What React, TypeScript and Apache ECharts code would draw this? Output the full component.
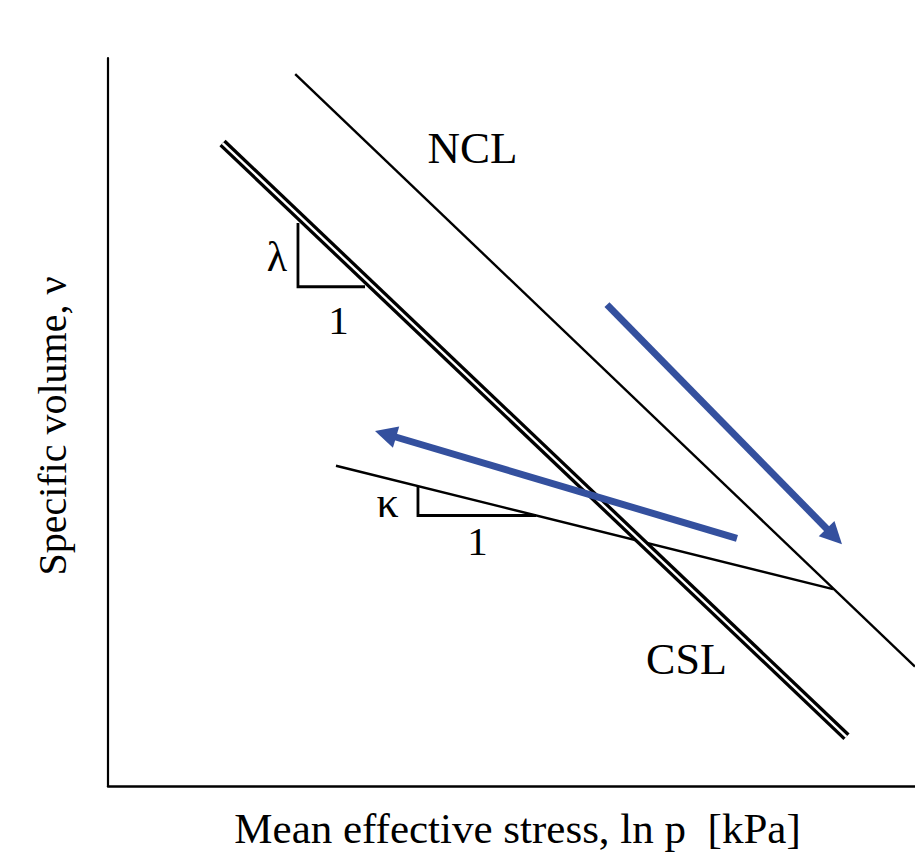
import React, { useEffect, useRef } from "react";
import * as echarts from "echarts";

// Schematic values (arbitrary units: x = ln p, y = specific volume)
const nclLine = [[23.2, 97.8], [100, 16.4]];
const cslLine = [[14.19, 88.32], [91.51, 6.76]];
const kappaLine = [[28.25, 43.99], [89.84, 27.05]];
const lambdaTriangle = [[23.54, 77.32], [23.54, 68.58], [31.85, 68.58]];
const kappaTriangle = [[38.41, 41.12], [38.41, 37.16], [53.04, 37.16]];
const arrowUnload = [[77.94, 34.02], [34.39, 48.35]];
const arrowLoad = [[61.83, 66.12], [90.0, 34.28]];
const labelNames = ["NCL", "CSL", "λ", "1", "κ", "1"];
const labelPoints = [
  [45.17, 87.7],
  [71.68, 17.42],
  [20.94, 72.68],
  [28.56, 64.07],
  [34.63, 38.93],
  [45.79, 33.67],
];
const xAxisTitle = "Mean effective stress, ln p  [kPa]";
const yAxisTitle = "Specific volume, ν";

const FONT = "'Liberation Serif', 'Times New Roman', serif";
const INK = "#000000";
const BLUE = "#34509e";

export default function App() {
  const ref = useRef<HTMLDivElement>(null);

  useEffect(() => {
    if (!ref.current) return;
    const chart = echarts.init(ref.current, undefined, { renderer: "svg" });
    const labelFont: Record<string, number> = { NCL: 45, CSL: 44, "λ": 42, "κ": 44, "1": 41 };

    const thin = (data: number[][], width: number, color = INK, z = 2) => ({
      type: "line",
      data,
      symbol: "none",
      showSymbol: false,
      silent: true,
      z,
      lineStyle: { color, width, cap: "butt", join: "miter", opacity: 1 },
    });

    chart.setOption({
      animation: false,
      backgroundColor: "#ffffff",
      grid: { left: 108, top: 58, right: 0, bottom: 65, containLabel: false },
      xAxis: {
        type: "value",
        min: 0,
        max: 100,
        name: xAxisTitle,
        nameLocation: "middle",
        nameGap: 21,
        nameTextStyle: { fontFamily: FONT, fontSize: 43, color: INK, padding: [0, 0, 0, 12] },
        axisLine: { show: true, onZero: false, lineStyle: { color: INK, width: 2.5 } },
        axisTick: { show: false },
        axisLabel: { show: false },
        splitLine: { show: false },
      },
      yAxis: {
        type: "value",
        min: 0,
        max: 100,
        name: yAxisTitle,
        nameLocation: "middle",
        nameGap: 36,
        nameTextStyle: { fontFamily: FONT, fontSize: 40, color: INK, padding: [0, 8, 0, 0] },
        axisLine: { show: true, onZero: false, lineStyle: { color: INK, width: 2.2 } },
        axisTick: { show: false },
        axisLabel: { show: false },
        splitLine: { show: false },
      },
      series: [
        thin(nclLine, 2.4),
        thin(kappaLine, 2.4),
        thin(cslLine, 9, INK, 3),
        thin(cslLine, 2.4, "#ffffff", 4),
        thin(lambdaTriangle, 2.8),
        thin(kappaTriangle, 2.8),
        {
          type: "lines",
          coordinateSystem: "cartesian2d",
          silent: true,
          z: 5,
          symbol: ["none", "triangle"],
          symbolSize: [24, 22],
          lineStyle: { color: BLUE, width: 7, opacity: 1, curveness: 0 },
          data: [{ coords: arrowUnload }, { coords: arrowLoad }],
        },
        {
          type: "scatter",
          silent: true,
          symbolSize: 0,
          z: 6,
          data: labelNames.map((n, i) => ({
            name: n,
            value: labelPoints[i],
            label: {
              show: true,
              position: "inside",
              formatter: "{b}",
              fontFamily: FONT,
              fontSize: labelFont[n],
              color: INK,
              textBorderWidth: 0,
              opacity: 1,
            },
          })),
        },
      ],
    });
    return () => chart.dispose();
  }, []);

  return (
    <div
      ref={ref}
      style={{ position: "fixed", left: 0, top: 0, width: 915, height: 855, background: "#fff" }}
    />
  );
}
